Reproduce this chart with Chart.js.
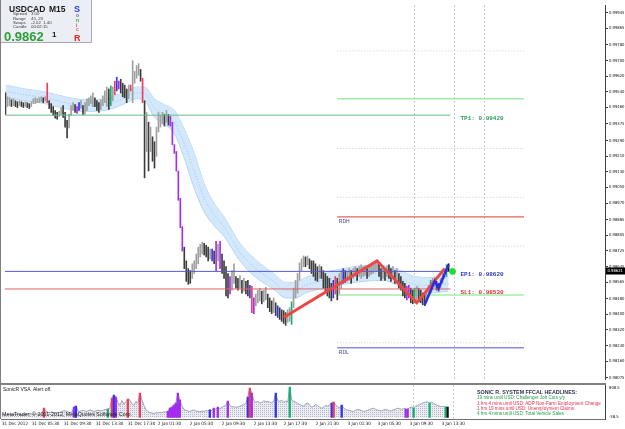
<!DOCTYPE html>
<html><head><meta charset="utf-8">
<script src="https://cdn.jsdelivr.net/npm/chart.js@4.4.0/dist/chart.umd.min.js"></script>
<style>
html,body{margin:0;padding:0;background:#fff;overflow:hidden;}
#wrap{position:relative;width:625px;height:429px;background:#fff;}
#c1{position:absolute;left:0;top:0;}
#c2{position:absolute;left:0;top:384px;}
</style></head><body>
<div id="wrap"><canvas id="c1" width="625" height="384"></canvas><canvas id="c2" width="625" height="45"></canvas></div>
<script>
// ---------- DATA ----------
const symbol = 'USDCAD', timeframe = 'M15';
const bidPrice = 0.98621;
const infoRows = [['Spread','3.00'],['Range','45, 23'],['Swaps','-2.02  1.40'],['Candle','00:02:15']];

const highs = [
0.99534,0.99514,0.99509,0.99499,0.99504,0.99494,0.99489,0.99494,0.99489,0.99484,
0.99489,0.99484,0.99479,0.99489,0.99504,0.99509,0.99504,0.99509,0.99514,0.99509,
0.99514,0.99584,0.99494,0.99479,0.99464,0.99444,0.99434,0.99439,0.99459,0.99469,
0.99434,0.99394,0.99424,0.99469,0.99484,0.99474,0.99464,0.99484,0.99494,0.99469,
0.99484,0.99504,0.99509,0.99519,0.99534,0.99509,0.99494,0.99484,0.99499,0.99519,
0.99544,0.99564,0.99554,0.99569,0.99564,0.99594,0.99614,0.99594,0.99604,0.99584,
0.99574,0.99554,0.99574,0.99574,0.99699,0.99644,0.99674,0.99684,0.99654,0.99609,
0.99494,0.99434,0.99384,0.99359,0.99309,0.99284,0.99359,0.99434,0.99419,0.99434,
0.99424,0.99444,0.99424,0.99414,0.99384,0.99269,0.99234,0.99134,0.98994,0.98849,
0.98744,0.98674,0.98634,0.98624,0.98659,0.98674,0.98709,0.98744,0.98759,0.98769,
0.98764,0.98754,0.98744,0.98734,0.98734,0.98724,0.98774,0.98759,0.98774,0.98709,
0.98674,0.98644,0.98609,0.98594,0.98624,0.98659,0.98594,0.98584,0.98599,0.98574,
0.98584,0.98569,0.98574,0.98549,0.98544,0.98484,0.98504,0.98524,0.98534,0.98519,
0.98524,0.98539,0.98504,0.98484,0.98469,0.98484,0.98459,0.98444,0.98434,0.98424,
0.98419,0.98409,0.98424,0.98434,0.98464,0.98534,0.98574,0.98609,0.98664,0.98684,
0.98699,0.98694,0.98699,0.98684,0.98674,0.98674,0.98659,0.98644,0.98654,0.98644,
0.98624,0.98609,0.98594,0.98584,0.98559,0.98574,0.98594,0.98584,0.98609,0.98624,
0.98634,0.98624,0.98619,0.98634,0.98624,0.98634,0.98644,0.98634,0.98644,0.98654,
0.98644,0.98649,0.98634,0.98644,0.98649,0.98659,0.98669,0.98674,0.98659,0.98634,
0.98644,0.98634,0.98649,0.98654,0.98634,0.98644,0.98624,0.98634,0.98609,0.98594,
0.98569,0.98559,0.98544,0.98549,0.98534,0.98524,0.98534,0.98544,0.98534,0.98524,
0.98509,0.98504,0.98524,0.98549,0.98574,0.98584,0.98589,0.98569,0.98559,0.98584,
0.98624,0.98634,0.98654,0.98659];

const lows = [
0.99424,0.99464,0.99469,0.99464,0.99469,0.99464,0.99459,0.99469,0.99464,0.99459,
0.99464,0.99459,0.99454,0.99464,0.99479,0.99479,0.99484,0.99484,0.99489,0.99484,
0.99494,0.99484,0.99454,0.99434,0.99419,0.99404,0.99399,0.99414,0.99424,0.99409,
0.99359,0.99304,0.99354,0.99419,0.99444,0.99434,0.99429,0.99444,0.99454,0.99424,
0.99424,0.99444,0.99469,0.99479,0.99464,0.99464,0.99444,0.99434,0.99449,0.99469,
0.99484,0.99464,0.99449,0.99469,0.99494,0.99524,0.99544,0.99554,0.99534,0.99514,
0.99509,0.99484,0.99504,0.99544,0.99484,0.99584,0.99609,0.99624,0.99594,0.99484,
0.99099,0.99234,0.99134,0.99234,0.99184,0.99149,0.99209,0.99334,0.99359,0.99374,
0.99364,0.99384,0.99369,0.99364,0.99269,0.99224,0.99134,0.98984,0.98844,0.98724,
0.98634,0.98569,0.98554,0.98559,0.98584,0.98609,0.98634,0.98659,0.98694,0.98709,
0.98704,0.98694,0.98674,0.98684,0.98674,0.98659,0.98624,0.98674,0.98634,0.98609,
0.98584,0.98494,0.98484,0.98504,0.98524,0.98559,0.98534,0.98524,0.98534,0.98509,
0.98519,0.98504,0.98494,0.98484,0.98409,0.98404,0.98444,0.98459,0.98469,0.98454,
0.98464,0.98474,0.98434,0.98414,0.98404,0.98409,0.98394,0.98384,0.98374,0.98364,
0.98354,0.98344,0.98359,0.98364,0.98349,0.98434,0.98484,0.98509,0.98574,0.98624,
0.98644,0.98644,0.98654,0.98634,0.98609,0.98594,0.98574,0.98569,0.98584,0.98584,
0.98534,0.98519,0.98494,0.98484,0.98469,0.98484,0.98504,0.98474,0.98504,0.98534,
0.98559,0.98564,0.98569,0.98574,0.98559,0.98584,0.98594,0.98574,0.98594,0.98584,
0.98594,0.98599,0.98584,0.98594,0.98604,0.98609,0.98624,0.98624,0.98594,0.98574,
0.98584,0.98574,0.98594,0.98584,0.98569,0.98584,0.98559,0.98574,0.98534,0.98524,
0.98494,0.98484,0.98474,0.98484,0.98459,0.98454,0.98459,0.98474,0.98464,0.98459,
0.98449,0.98444,0.98464,0.98494,0.98509,0.98524,0.98539,0.98524,0.98519,0.98534,
0.98559,0.98584,0.98594,0.98619];

const volumes = [
90,70,60,80,75,65,70,85,80,75,60,70,90,85,100,80,75,90,85,70,95,
235,
150,130,120,140,110,100,120,130,150,170,160,140,120,130,
260,285,
160,150,180,170,150,160,190,170,150,160,180,170,160,190,200,
210,230,480,560,510,
380,300,420,330,400,
460,
430,350,300,400,360,
610,440,
300,200,150,120,110,100,120,110,130,120,140,130,
150,235,260,310,360,610,440,
300,200,180,160,150,170,190,160,150,140,160,150,170,160,
190,170,235,200,260,
220,250,280,300,
410,
300,260,270,250,260,280,300,320,350,
510,734,609,
420,380,400,360,370,420,390,400,380,360,410,
609,
420,400,430,380,410,390,
758,
430,400,380,350,320,300,280,340,360,300,260,280,320,300,250,230,260,300,280,320,
360,385,
300,260,240,
310,
230,200,180,170,160,150,180,200,190,170,150,160,180,200,220,230,200,180,170,160,190,200,180,160,170,190,210,230,220,200,230,
210,210,240,260,235,
280,300,320,350,370,380,390,
360,
380,350,320,300,280,270,
280,260,260];

// VSA signal bars (r=red, p=purple, b=blue, g=green, k=black)
const vsaSignals = {21:'r',36:'p',37:'b',53:'g',55:'r',56:'b',57:'p',63:'r',69:'r',
  83:'p',84:'p',85:'p',86:'p',87:'p',88:'p',89:'p',104:'b',106:'p',108:'p',113:'p',
  123:'b',124:'r',125:'p',137:'b',144:'g',165:'b',166:'r',170:'b',202:'p',203:'p',
  206:'g',214:'g',222:'g',223:'k'};

// Sonic R dragon band
const bandBars  = [0,10,20,30,40,50,60,66,70,75,80,85,90,95,100,105,110,118,126,135,141,146,151,160,170,180,190,200,206,213,223];
const bandUpper = [0.99574,0.99554,0.99539,0.99514,0.99499,0.99504,0.99539,0.99564,0.99564,0.99504,0.99474,0.99444,0.99349,0.99224,0.99069,0.98969,0.98899,0.98764,0.98679,0.98609,0.98564,0.98564,0.98589,0.98614,0.98634,0.98649,0.98649,0.98619,0.98594,0.98589,0.98594];
const bandLower = [0.99509,0.99494,0.99479,0.99454,0.99439,0.99444,0.99479,0.99504,0.99494,0.99409,0.99374,0.99324,0.99199,0.99044,0.98924,0.98854,0.98799,0.98674,0.98589,0.98529,0.98484,0.98484,0.98509,0.98534,0.98554,0.98569,0.98574,0.98534,0.98514,0.98509,0.98519];
const bandMid   = [0.99542,0.99524,0.99509,0.99484,0.99469,0.99474,0.99509,0.99534,0.99529,0.99456,0.99424,0.99384,0.99274,0.99134,0.98997,0.98912,0.98849,0.98719,0.98634,0.98569,0.98524,0.98524,0.98549,0.98574,0.98594,0.98609,0.98612,0.98577,0.98554,0.98549,0.98557];

// daily levels (RDH / RDL etc.)
const levelPrices = [0.99749,0.99504,0.99249,0.98999,0.98899,0.98749,0.98499,0.98254,0.98229];
const levelKinds  = ['dot','green','dot','dot','red','dot','green','dot','blue'];
const levelNames  = ['','','','','RDH','','','','RDL'];
const levelStartBar = 167, levelEndBar = 261;

// trade levels
const tradeNames  = ['TP1','EP1','SL1'];
const tradePrices = [0.99420,0.98620,0.98530];
const tradeColors = ['#66bb88','#5858d0','#e06464'];
const tradeTextColors = ['#2f9a5a','#2a3ac8','#e03030'];
const tradeEndBar = 224, tradeLabelBar = 229;
const entryDotBar = 225;

// zigzags
const redZigBars = [140,187,207,221], redZigPrices = [0.98384,0.98674,0.98459,0.98634];
const blueZigBars = [211,216,218,223], blueZigPrices = [0.98449,0.98569,0.98534,0.98654];

// axes
const priceTicks = [0.99945,0.99865,0.99780,0.99700,0.99620,0.99540,0.99460,0.99375,0.99290,0.99210,0.99130,0.99050,0.98970,0.98885,0.98805,0.98725,0.98645,0.98565,0.98480,0.98400,0.98320,0.98240,0.98160,0.98075];
const timeTickBars = [0,15,31,47,63,78,94,110,126,141,157,173,188,204,220];
const timeLabels = ['31 Dec 2012','31 Dec 05:30','31 Dec 09:30','31 Dec 13:30','31 Dec 17:30','2 Jan 01:30','2 Jan 05:30','2 Jan 09:30','2 Jan 13:30','2 Jan 17:30','2 Jan 21:30','3 Jan 01:30','3 Jan 05:30','3 Jan 09:30','3 Jan 13:30'];
const separatorBars = [206,226,241];
const volMin = -38.5, volMax = 808.5;

const headlineTitle = 'SONIC R. SYSTEM FFCAL HEADLINES:';
const headlines = ['19 mins until USD: Challenger Job Cuts y/y','1 hrs 4 mins until USD: ADP Non-Farm Employment Change','1 hrs 19 mins until USD: Unemployment Claims','4 hrs 4 mins until USD: Total Vehicle Sales'];
const headlineKinds = ['g','r','r','g'];

// ---------- STYLE ----------
const NARROW = "'Liberation Sans Narrow','DejaVu Sans Condensed','Liberation Sans',sans-serif";
const SANS = "'Liberation Sans',Arial,sans-serif";
const MONO = "'Liberation Mono','DejaVu Sans Mono',monospace";
const signalColors = {r:'#f03c64', p:'#a42cf0', b:'#3434f0', g:'#14b070', k:'#101010'};
const X_MIN = -0.25, X_MAX = 301.75;
const Y_MIN = 0.98069, Y_MAX = 0.99984;

// font size that makes a sample text a given pixel width
const _mc = document.createElement('canvas').getContext('2d');
function fitSize(family, weight, sample, width){
  _mc.font = weight + ' 20px ' + family;
  return Math.min(8, 20 * width / _mc.measureText(sample).width);
}
const axisSize = fitSize(NARROW, 'normal', '0.99945', 15.5);
const timeSize = fitSize(NARROW, 'normal', '31 Dec 05:30', 27.5);
const headSize = fitSize(SANS, 'normal', headlines[1], 124);
const titleSize = fitSize(SANS, 'bold', headlineTitle, 100);
const copySize = fitSize(SANS, 'normal', 'MetaTrader, \u00A9 2001-2012, MetaQuotes Software Corp.', 130);

function candleColor(i){
  if (vsaSignals[i]) return signalColors[vsaSignals[i]];
  if (i === 0) return '#404040';
  const mid = (highs[i]+lows[i])/2, prev = (highs[i-1]+lows[i-1])/2;
  return mid < prev ? '#3c3c3c' : '#a0a0a0';
}
function pts(bars, vals){ return bars.map((b,k)=>({x:b, y:vals[k]})); }

// ---------- MAIN CHART ----------
const datasets1 = [];
datasets1.push({type:'line', data:pts(bandBars,bandUpper), borderColor:'#b6d6f2', borderWidth:1, pointRadius:0, cubicInterpolationMode:'monotone', fill:false, order:100});
datasets1.push({type:'line', data:pts(bandBars,bandLower), borderColor:'#b6d6f2', borderWidth:1, pointRadius:0, cubicInterpolationMode:'monotone', fill:'-1', backgroundColor:'rgba(206,229,250,0.9)', order:99});
datasets1.push({type:'line', data:pts(bandBars,bandMid), borderColor:'#9cc2e8', borderWidth:1, borderDash:[1,2], pointRadius:0, cubicInterpolationMode:'monotone', fill:false, order:98});
levelPrices.forEach((p,k)=>{
  const kind = levelKinds[k];
  const st = {dot:{c:'#c8c9dc',w:1,d:[1,2]}, green:{c:'#a4eca4',w:1.5,d:[]}, red:{c:'#e8605c',w:1.2,d:[]}, blue:{c:'#8a8ae8',w:1.5,d:[]}}[kind];
  datasets1.push({type:'line', data:[{x:levelStartBar,y:p},{x:levelEndBar,y:p}], borderColor:st.c, borderWidth:st.w, borderDash:st.d, pointRadius:0, fill:false, order:90});
});
datasets1.push({type:'bar', data:highs.map((h,i)=>({x:i, y:[lows[i],h]})), backgroundColor:highs.map((h,i)=>candleColor(i)), barThickness:1, borderWidth:0, order:50});
tradePrices.forEach((p,k)=>{
  datasets1.push({type:'line', data:[{x:X_MIN,y:p},{x:tradeEndBar,y:p}], borderColor:tradeColors[k], borderWidth:1, pointRadius:0, fill:false, order:40});
});
datasets1.push({type:'line', data:pts(redZigBars,redZigPrices), borderColor:'#ee4646', borderWidth:3, pointRadius:0, fill:false, order:20});
datasets1.push({type:'line', data:pts(blueZigBars,blueZigPrices), borderColor:'#2c2ce6', borderWidth:2.5, pointRadius:0, fill:false, order:10});
datasets1.push({type:'line', data:[{x:entryDotBar,y:tradePrices[1]}], showLine:false, pointRadius:3, pointBackgroundColor:'#22dd33', pointBorderColor:'#22dd33', order:5});

const overlay1 = {
  id:'overlay1',
  beforeDatasetsDraw(chart){
    const {ctx, chartArea:a, scales:{x}} = chart;
    ctx.save();
    ctx.strokeStyle = '#c6c8d6'; ctx.lineWidth = 1; ctx.setLineDash([2,2]);
    separatorBars.forEach(b=>{ const px = Math.floor(x.getPixelForValue(b))+0.5; ctx.beginPath(); ctx.moveTo(px,a.top); ctx.lineTo(px,a.bottom); ctx.stroke(); });
    ctx.restore();
  },
  afterDraw(chart){
    const {ctx, chartArea:a, scales:{x,y}} = chart;
    ctx.save();
    // frame
    ctx.strokeStyle = '#808080'; ctx.lineWidth = 1;
    ctx.beginPath(); ctx.moveTo(0.5,0); ctx.lineTo(0.5,384); ctx.stroke();
    ctx.beginPath(); ctx.moveTo(0,383.5); ctx.lineTo(606,383.5); ctx.stroke();
    // level names
    ctx.font = '5px '+SANS; ctx.fillStyle = '#404078'; ctx.textBaseline = 'middle'; ctx.textAlign = 'left';
    levelNames.forEach((n,k)=>{ if(n){ ctx.fillText(n, x.getPixelForValue(levelStartBar)+1.5, y.getPixelForValue(levelPrices[k])+5); }});
    // trade labels
    ctx.font = 'bold 6px '+MONO;
    tradeNames.forEach((n,k)=>{ ctx.fillStyle = tradeTextColors[k]; ctx.fillText(n+': '+tradePrices[k].toFixed(5), x.getPixelForValue(tradeLabelBar), y.getPixelForValue(tradePrices[k])+3.5); });
    // price box
    const py = y.getPixelForValue(bidPrice);
    ctx.fillStyle = '#000'; ctx.fillRect(606, Math.round(py)-3.5, 19, 7);
    ctx.fillStyle = '#fff'; ctx.font = axisSize.toFixed(2)+'px '+NARROW; ctx.fillText(bidPrice.toFixed(5), 607.5, py);
    // info box
    ctx.fillStyle = '#eceef5'; ctx.fillRect(1,0,90,42);
    ctx.strokeStyle = '#a8a8b4'; ctx.beginPath(); ctx.moveTo(91.5,0); ctx.lineTo(91.5,42.5); ctx.lineTo(1,42.5); ctx.stroke();
    ctx.fillStyle = '#1a1a1a'; ctx.font = 'bold 8.5px '+SANS; ctx.textBaseline = 'alphabetic';
    ctx.fillText(symbol, 9, 12); ctx.fillText(timeframe, 49, 12);
    ctx.font = '4.3px '+SANS; ctx.fillStyle = '#3a3a3a'; ctx.textBaseline = 'middle';
    infoRows.forEach((r,k)=>{ const yy = 14.3 + k*4.2; ctx.fillText(r[0], 13, yy); ctx.fillText(r[1], 31, yy); });
    const s = bidPrice.toFixed(5);
    ctx.textBaseline = 'alphabetic';
    ctx.font = 'bold 13px '+SANS; ctx.fillStyle = '#2e9e36'; ctx.fillText(s.slice(0,6), 4, 41);
    ctx.font = 'bold 8px '+SANS; ctx.fillStyle = '#202020'; ctx.fillText(s.slice(6), 52, 37);
    ctx.font = 'bold 9px '+SANS; ctx.fillStyle = '#2a3ed8'; ctx.fillText('S', 74, 12);
    ctx.font = 'bold 9px '+SANS; ctx.fillStyle = '#e02828'; ctx.fillText('R', 74, 41);
    const mini = [['o','#5064d8',17],['n','#4aa04a',22],['i','#c040c0',26.5],['c','#e06040',30.5]];
    ctx.font = 'bold 5px '+SANS;
    mini.forEach(m=>{ ctx.fillStyle = m[1]; ctx.fillText(m[0], 76, m[2]); });
    ctx.restore();
  }
};

new Chart(document.getElementById('c1'), {
  type:'line',
  data:{datasets:datasets1},
  options:{
    responsive:false, animation:false, devicePixelRatio:1,
    layout:{padding:{left:1,right:0,top:0,bottom:1}},
    plugins:{legend:{display:false}, tooltip:{enabled:false}},
    scales:{
      x:{type:'linear', min:X_MIN, max:X_MAX, display:false, offset:false, grid:{display:false, drawTicks:false}},
      y:{type:'linear', position:'right', min:Y_MIN, max:Y_MAX,
        afterFit:s=>{ s.width = 20; },
        afterBuildTicks:s=>{ s.ticks = priceTicks.map(v=>({value:v})); },
        ticks:{callback:v=>Number(v).toFixed(5), font:{family:NARROW,size:axisSize}, color:'#101010', padding:1, autoSkip:false},
        grid:{display:true, drawOnChartArea:false, drawTicks:true, tickLength:3, color:'#404040'},
        border:{display:true, color:'#404040'}}
    }
  },
  plugins:[overlay1]
});

// ---------- INDICATOR PANEL ----------
const c2 = document.getElementById('c2');
function dotPattern(){
  const c = document.createElement('canvas'); c.width = 2; c.height = 2;
  const g = c.getContext('2d'); g.fillStyle = '#eaecf2'; g.fillRect(0,0,2,2); g.fillStyle = '#b6bac8'; g.fillRect(0,0,1,1);
  return c2.getContext('2d').createPattern(c,'repeat');
}
const sigBars = Object.keys(vsaSignals).map(Number);
const overlay2 = {
  id:'overlay2',
  beforeDatasetsDraw(chart){
    const {ctx, chartArea:a, scales:{x}} = chart;
    ctx.save(); ctx.strokeStyle = '#c6c8d6'; ctx.lineWidth = 1; ctx.setLineDash([2,2]);
    separatorBars.slice(0,2).forEach(b=>{ const px = Math.floor(x.getPixelForValue(b))+0.5; ctx.beginPath(); ctx.moveTo(px,a.top); ctx.lineTo(px,a.bottom); ctx.stroke(); });
    ctx.restore();
  },
  afterDraw(chart){
    const {ctx} = chart;
    ctx.save();
    ctx.strokeStyle = '#808080'; ctx.lineWidth = 1;
    ctx.beginPath(); ctx.moveTo(0,0.5); ctx.lineTo(606,0.5); ctx.stroke();
    ctx.beginPath(); ctx.moveTo(0.5,0); ctx.lineTo(0.5,35); ctx.stroke();
    ctx.textBaseline = 'middle'; ctx.textAlign = 'left';
    ctx.font = '5px '+SANS; ctx.fillStyle = '#202020';
    ctx.fillText('SonicR VSA', 3, 5.5); ctx.fillText('Alert off.', 33, 5.5);
    ctx.font = copySize.toFixed(2)+'px '+SANS; ctx.fillStyle = '#222';
    ctx.fillText('MetaTrader, \u00A9 2001-2012, MetaQuotes Software Corp.', 2, 31);
    ctx.font = axisSize.toFixed(2)+'px '+NARROW; ctx.fillStyle = '#101010';
    ctx.fillText(String(volMax), 609, 4); ctx.fillText(String(volMin), 609, 33);
    ctx.font = 'bold '+titleSize.toFixed(2)+'px '+SANS; ctx.fillStyle = '#303050';
    ctx.fillText(headlineTitle, 477, 8.3);
    ctx.font = headSize.toFixed(2)+'px '+SANS;
    headlines.forEach((h,k)=>{ ctx.fillStyle = headlineKinds[k]==='g' ? '#1fa048' : '#ec3052'; ctx.fillText(h, 477, 14.2 + k*5.3); });
    ctx.restore();
  }
};
new Chart(c2, {
  type:'line',
  data:{datasets:[
    {type:'bar', data:sigBars.map(i=>({x:i, y:volumes[i]})), backgroundColor:sigBars.map(i=>signalColors[vsaSignals[i]]), barThickness:1.6, borderWidth:0, order:1},
    {type:'line', data:volumes.map((v,i)=>({x:i, y:v})), borderColor:'#9ea4b4', borderWidth:1, backgroundColor:dotPattern(), fill:'origin', pointRadius:0, tension:0, order:2}
  ]},
  options:{
    responsive:false, animation:false, devicePixelRatio:1,
    layout:{padding:{left:1,right:0,top:1,bottom:0}},
    plugins:{legend:{display:false}, tooltip:{enabled:false}},
    scales:{
      x:{type:'linear', min:X_MIN, max:X_MAX, position:'bottom', offset:false,
        afterFit:s=>{ s.height = 10; },
        afterBuildTicks:s=>{ s.ticks = timeTickBars.map(v=>({value:v})); },
        ticks:{callback:(v,i)=>timeLabels[i], align:'start', autoSkip:false, maxRotation:0, minRotation:0, font:{family:NARROW,size:timeSize}, color:'#101010', padding:2},
        grid:{display:false, drawTicks:false},
        border:{display:true, color:'#707070'}},
      y:{type:'linear', position:'right', min:volMin, max:volMax,
        afterFit:s=>{ s.width = 20; },
        ticks:{display:false}, grid:{display:false, drawTicks:false},
        border:{display:true, color:'#404040'}}
    }
  },
  plugins:[overlay2]
});
</script></body></html>
